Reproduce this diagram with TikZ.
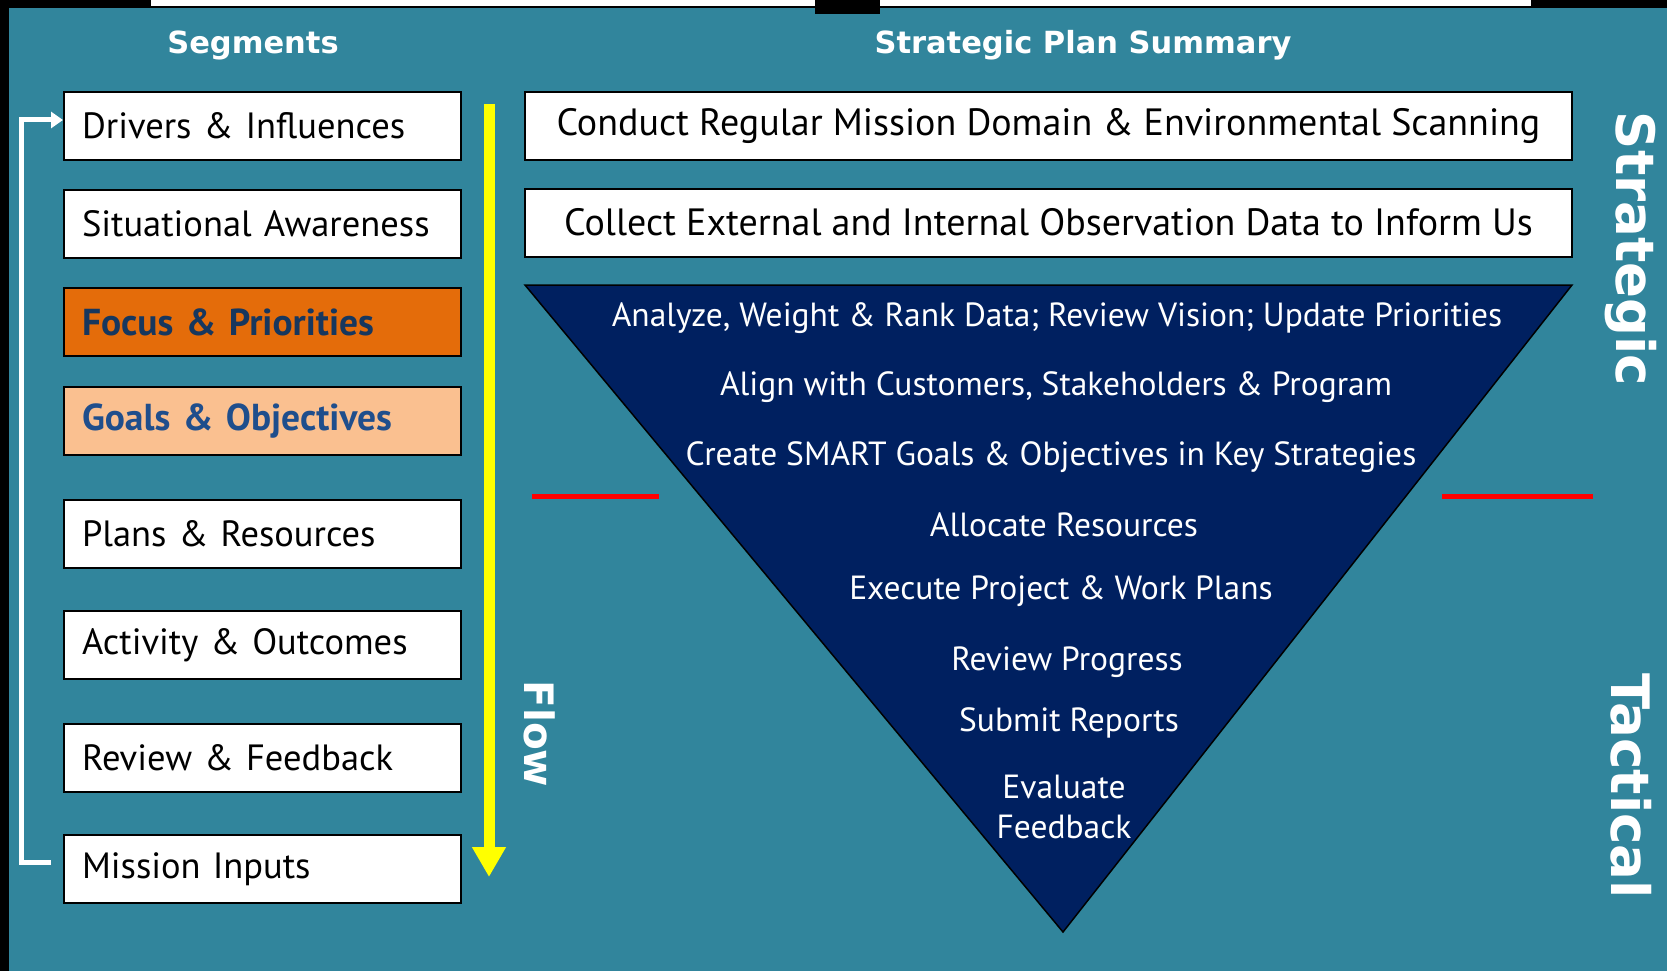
\documentclass[tikz,border=0pt]{standalone}
\usepackage{fontspec}
\setmainfont{PT Sans}
\newfontfamily\headfont{DejaVu Sans}
\usetikzlibrary{arrows.meta}

\definecolor{bgteal}{HTML}{31859C}
\definecolor{navy}{HTML}{002060}
\definecolor{focusorange}{HTML}{E46C0A}
\definecolor{goalpeach}{HTML}{FAC090}
\definecolor{focustext}{HTML}{17375E}
\definecolor{goaltext}{HTML}{1F4E8C}
\definecolor{redline}{HTML}{FF0000}
\definecolor{flowyellow}{HTML}{FFFF00}

\tikzset{
  segbox/.style={draw=black, line width=2pt, fill=white, minimum height=68pt,
    text width=361pt, inner xsep=18pt, align=left, font=\fontsize{36.5}{40}\selectfont},
  planbox/.style={draw=black, line width=2pt, fill=white, minimum width=1047pt,
    minimum height=68pt, font=\fontsize{38}{42}\selectfont},
  steptext/.style={text=white, align=center, font=\fontsize{33.5}{40}\selectfont},
  headtext/.style={text=white, font=\headfont\bfseries\fontsize{30.5}{34}\selectfont},
  sidetext/.style={text=white, rotate=-90, font=\headfont\bfseries\fontsize{53}{56}\selectfont},
}

\begin{document}
\begin{tikzpicture}[x=1pt,y=-1pt]
    % 背景
    \fill[bgteal] (0,0) rectangle (1667,971);
    \fill[black] (0,0) rectangle (1667,8);
    \fill[black] (0,0) rectangle (9,971);
    \fill[white] (151,0) rectangle (1531,6);
    \fill[black] (815,0) rectangle (880,14);

    % 标题
    \node[headtext] (seghead) at (253,45) {Segments};
    \node[headtext] (planhead) at (1083,45) {Strategic Plan Summary};

    % 左侧各段
    \node[segbox] (drivers) at (262.5,126) {Drivers \& Influences};
    \node[segbox] (aware) at (262.5,224) {Situational Awareness};
    \node[segbox, fill=focusorange, text=focustext, font=\bfseries\fontsize{37.5}{40}\selectfont] (focus) at (262.5,322) {Focus \& Priorities};
    \node[segbox, fill=goalpeach, text=goaltext, font=\bfseries\fontsize{37.5}{40}\selectfont] (goals) at (262.5,421) {Goals \& Objectives};
    \node[segbox] (plans) at (262.5,533.5) {Plans \& Resources};
    \node[segbox] (activity) at (262.5,645) {Activity \& Outcomes};
    \node[segbox] (review) at (262.5,758) {Review \& Feedback};
    \node[segbox] (mission) at (262.5,869) {Mission Inputs};

    % 反馈回路
    \coordinate (loopstart) at (51,862);
    \draw[white, line width=5pt, -{Triangle[width=16pt,length=12pt]}]
        (loopstart) -- ++(-30,0) |- ([yshift=6pt]drivers.west);

    % 流程箭头
    \coordinate (flowtop) at (489,104);
    \coordinate (flowend) at (489,877);
    \draw[flowyellow, line width=11pt, -{Triangle[width=32pt,length=30pt]}] (flowtop) -- (flowend);
    \node[sidetext, font=\headfont\bfseries\fontsize{40.5}{44}\selectfont] (flowlabel) at (540,734) {Flow};

    % 右侧计划
    \node[planbox] (scan) at (1048.5,126) {Conduct Regular Mission Domain \& Environmental Scanning};
    \node[planbox] (collect) at (1048.5,222.5) {Collect External and Internal Observation Data to Inform Us};

    % 倒三角形
    \coordinate (A) at (525,285);
    \coordinate (B) at (1572,285);
    \coordinate (C) at (1063,932);
    \filldraw[fill=navy, draw=black, line width=1.5pt] (A) -- (B) -- (C) -- cycle;

    \node[steptext] (analyze) at (1057,318) {Analyze, Weight \& Rank Data; Review Vision; Update Priorities};
    \node[steptext] (align) at (1056,387) {Align with Customers, Stakeholders \& Program};
    \node[steptext] (smart) at (1051,457) {Create SMART Goals \& Objectives in Key Strategies};
    \node[steptext] (allocate) at (1064,525) {Allocate Resources};
    \node[steptext] (execute) at (1061,591) {Execute Project \& Work Plans};
    \node[steptext] (progress) at (1067,662) {Review Progress};
    \node[steptext] (submit) at (1069,723) {Submit Reports};
    \node[steptext] (evaluate) at (1064,807) {Evaluate\\Feedback};

    % 分界红线
    \draw[redline, line width=5pt] (532,496) -- (659,496);
    \draw[redline, line width=5pt] (1442,496) -- (1593,496);

    % 侧边标签
    \node[sidetext] (strat) at (1631,249) {Strategic};
    \node[sidetext] (tact) at (1631,786) {Tactical};
\end{tikzpicture}
\end{document}
